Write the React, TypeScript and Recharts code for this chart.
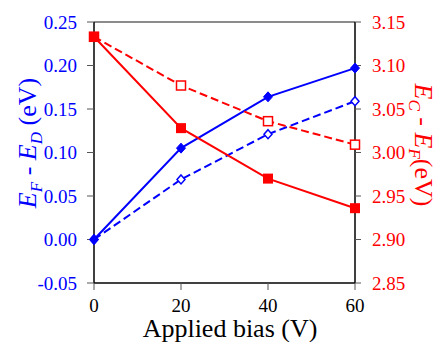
import React from "react";
import { LineChart, Line, XAxis, YAxis, ReferenceLine } from "recharts";

const bias = [0, 20, 40, 60];
const efEdSolid = [0, 0.105, 0.164, 0.197];
const efEdDashed = [0, 0.069, 0.121, 0.159];
const ecEfSolid = [3.133, 3.028, 2.97, 2.936];
const ecEfDashed = [3.133, 3.077, 3.036, 3.009];

const xTicks = [0, 20, 40, 60];
const leftTicks = [-0.05, 0, 0.05, 0.1, 0.15, 0.2, 0.25];
const rightTicks = [2.85, 2.9, 2.95, 3.0, 3.05, 3.1, 3.15];

const data = bias.map((b, i) => ({
  bias: b,
  efEdSolid: efEdSolid[i],
  efEdDashed: efEdDashed[i],
  ecEfSolid: ecEfSolid[i],
  ecEfDashed: ecEfDashed[i],
}));

const FONT = "Liberation Serif, Times New Roman, Times, serif";
const BLUE = "#0000ff";
const RED = "#ff0000";
const TICKC = "#555";

const filledDiamond = (p: any) => (
  <path
    key={`fd-${p.index}`}
    d={`M${p.cx},${p.cy - 5}L${p.cx + 4.5},${p.cy}L${p.cx},${p.cy + 5}L${p.cx - 4.5},${p.cy}Z`}
    fill={BLUE}
    stroke={BLUE}
    strokeWidth={1}
  />
);
const openDiamond = (p: any) => (
  <path
    key={`od-${p.index}`}
    d={`M${p.cx},${p.cy - 4.5}L${p.cx + 4},${p.cy}L${p.cx},${p.cy + 4.5}L${p.cx - 4},${p.cy}Z`}
    fill="#fff"
    stroke={BLUE}
    strokeWidth={1.5}
  />
);
const filledSquare = (p: any) => (
  <rect key={`fs-${p.index}`} x={p.cx - 5} y={p.cy - 5} width={10} height={10} fill={RED} />
);
const openSquare = (p: any) => (
  <rect
    key={`os-${p.index}`}
    x={p.cx - 4.5}
    y={p.cy - 4.5}
    width={9}
    height={9}
    fill="#fff"
    stroke={RED}
    strokeWidth={1.5}
  />
);

const leftLabel = () => (
  <text
    x={36}
    y={143}
    transform="rotate(-90, 36, 143)"
    textAnchor="middle"
    fill={BLUE}
    style={{ fontFamily: FONT, fontSize: 26 }}
  >
    <tspan fontStyle="italic">E</tspan>
    <tspan fontStyle="italic" fontSize={17} dy={6}>F</tspan>
    <tspan dy={-6}> - </tspan>
    <tspan fontStyle="italic">E</tspan>
    <tspan fontStyle="italic" fontSize={17} dy={6}>D</tspan>
    <tspan dy={-6}> (eV)</tspan>
  </text>
);

const rightLabel = () => (
  <text
    x={415}
    y={145}
    transform="rotate(90, 415, 145)"
    textAnchor="middle"
    fill={RED}
    style={{ fontFamily: FONT, fontSize: 26 }}
  >
    <tspan fontStyle="italic">E</tspan>
    <tspan fontStyle="italic" fontSize={17} dy={6}>C</tspan>
    <tspan dy={-6}> - </tspan>
    <tspan fontStyle="italic">E</tspan>
    <tspan fontStyle="italic" fontSize={17} dy={6}>F</tspan>
    <tspan dy={-6}>(eV)</tspan>
  </text>
);

const bottomLabel = () => (
  <text x={230} y={337} textAnchor="middle" fill="#000" style={{ fontFamily: FONT, fontSize: 26 }}>
    Applied bias (V)
  </text>
);

export default function App() {
  return (
    <div
      style={{
        position: "absolute",
        left: 0,
        top: 0,
        width: 440,
        height: 342,
        background: "#fff",
        fontFamily: FONT,
      }}
    >
      <LineChart
        width={440}
        height={342}
        data={data}
        margin={{ top: 22, right: 0, bottom: 0, left: 0 }}
        style={{ fontFamily: FONT }}
      >
        <XAxis
          dataKey="bias"
          type="number"
          domain={[0, 60]}
          ticks={xTicks}
          height={59}
          tickSize={7}
          tickMargin={9}
          axisLine={{ stroke: "#000", strokeWidth: 1.5 }}
          tickLine={{ stroke: TICKC }}
          tick={{ fill: "#000", fontSize: 19, style: { fontFamily: FONT } }}
          label={bottomLabel}
        />
        <YAxis
          yAxisId="left"
          orientation="left"
          width={94}
          domain={[-0.05, 0.25]}
          ticks={leftTicks}
          tickFormatter={(v: number) => v.toFixed(2)}
          tickSize={7}
          tickMargin={10}
          axisLine={{ stroke: "#000", strokeWidth: 1.5 }}
          tickLine={{ stroke: TICKC }}
          tick={{ fill: BLUE, fontSize: 19, style: { fontFamily: FONT } }}
          label={leftLabel}
        />
        <YAxis
          yAxisId="right"
          orientation="right"
          width={85}
          domain={[2.85, 3.15]}
          ticks={rightTicks}
          tickFormatter={(v: number) => v.toFixed(2)}
          tickSize={6}
          tickMargin={11}
          axisLine={{ stroke: "#000", strokeWidth: 1.5 }}
          tickLine={{ stroke: TICKC }}
          tick={{ fill: RED, fontSize: 19, style: { fontFamily: FONT } }}
          label={rightLabel}
        />
        <ReferenceLine yAxisId="left" y={0.25} stroke="#666" strokeWidth={1.5} />
        <Line
          yAxisId="left"
          dataKey="efEdDashed"
          type="linear"
          stroke={BLUE}
          strokeWidth={2}
          strokeDasharray="8 4"
          dot={openDiamond}
          activeDot={false}
          isAnimationActive={false}
        />
        <Line
          yAxisId="left"
          dataKey="efEdSolid"
          type="linear"
          stroke={BLUE}
          strokeWidth={2}
          dot={filledDiamond}
          activeDot={false}
          isAnimationActive={false}
        />
        <Line
          yAxisId="right"
          dataKey="ecEfDashed"
          type="linear"
          stroke={RED}
          strokeWidth={2}
          strokeDasharray="8 4"
          dot={openSquare}
          activeDot={false}
          isAnimationActive={false}
        />
        <Line
          yAxisId="right"
          dataKey="ecEfSolid"
          type="linear"
          stroke={RED}
          strokeWidth={2}
          dot={filledSquare}
          activeDot={false}
          isAnimationActive={false}
        />
      </LineChart>
    </div>
  );
}
